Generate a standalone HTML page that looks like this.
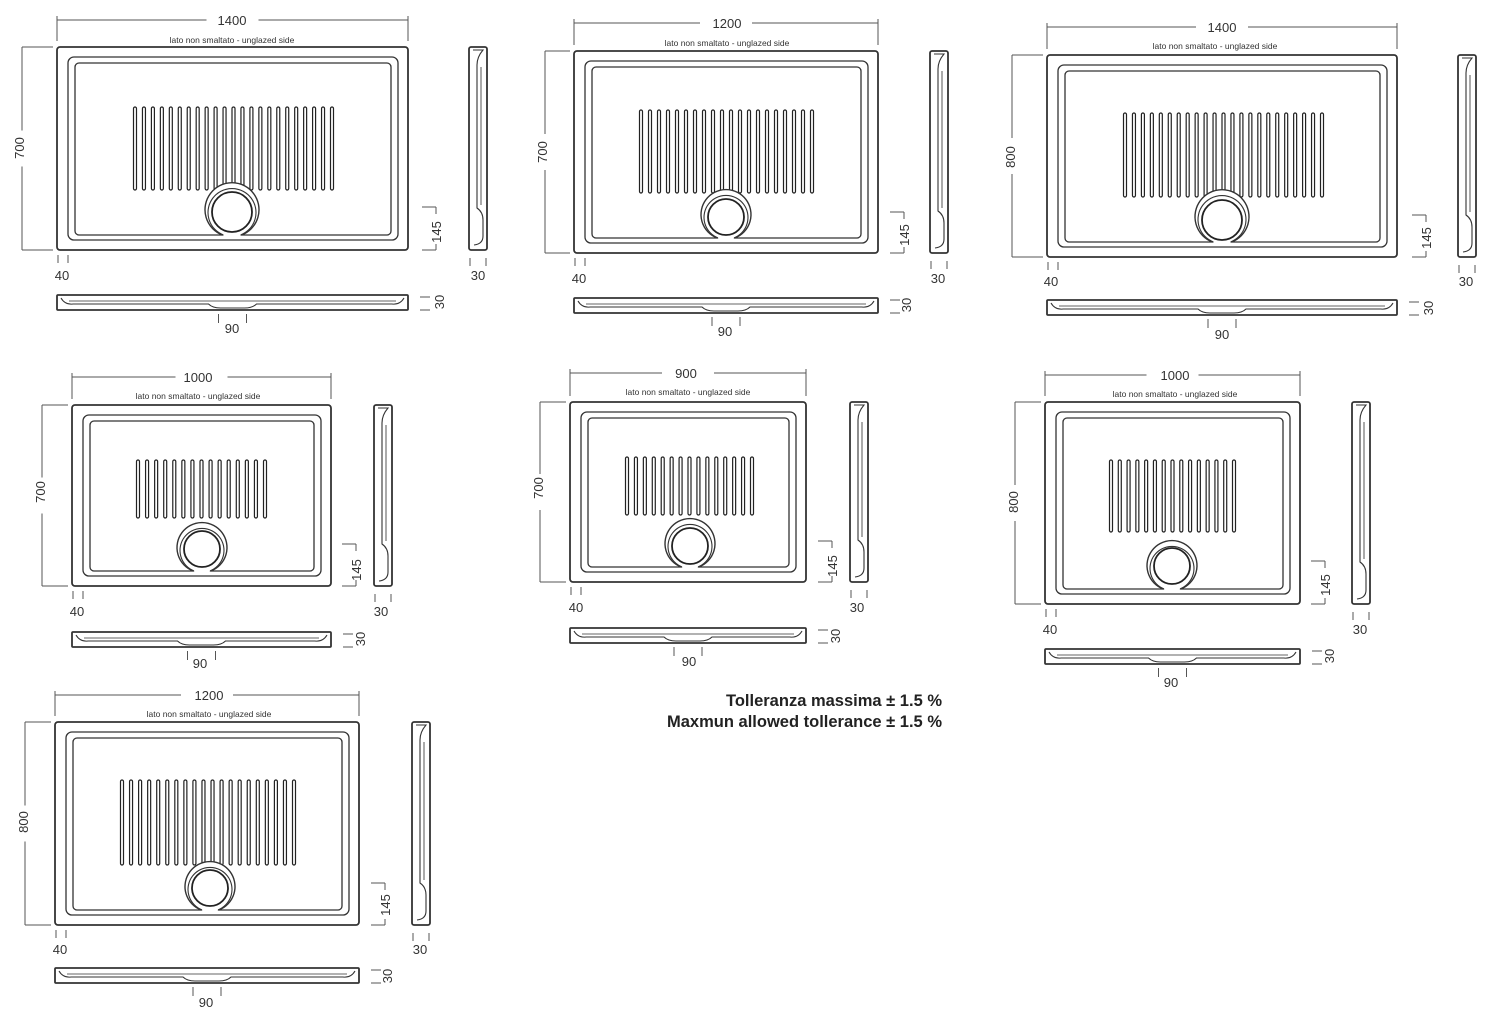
<!DOCTYPE html>
<html><head><meta charset="utf-8"><style>
html,body{margin:0;padding:0;background:#fff;}
svg{display:block;}
text{font-family:"Liberation Sans",sans-serif;fill:#333;}
.d{font-size:13px;}
.s{font-size:8.5px;}
.b{font-size:16.5px;font-weight:bold;fill:#222;}
</style></head><body>
<svg id="sv" width="1500" height="1023" viewBox="0 0 1500 1023" xmlns="http://www.w3.org/2000/svg">
<g id="shapes"></g>
<g id="labels">
<text class="d" x="232" y="25" text-anchor="middle">1400</text>
<text class="s" x="232" y="43" text-anchor="middle">lato non smaltato - unglazed side</text>
<text class="d" transform="translate(24,148) rotate(-90)" text-anchor="middle">700</text>
<text class="d" transform="translate(441,232) rotate(-90)" text-anchor="middle">145</text>
<text class="d" x="62" y="280" text-anchor="middle">40</text>
<text class="d" x="478" y="280" text-anchor="middle">30</text>
<text class="d" transform="translate(444,302) rotate(-90)" text-anchor="middle">30</text>
<text class="d" x="232" y="333" text-anchor="middle">90</text>
<text class="d" x="727" y="28" text-anchor="middle">1200</text>
<text class="s" x="727" y="46" text-anchor="middle">lato non smaltato - unglazed side</text>
<text class="d" transform="translate(547,152) rotate(-90)" text-anchor="middle">700</text>
<text class="d" transform="translate(909,235) rotate(-90)" text-anchor="middle">145</text>
<text class="d" x="579" y="283" text-anchor="middle">40</text>
<text class="d" x="938" y="283" text-anchor="middle">30</text>
<text class="d" transform="translate(911,305) rotate(-90)" text-anchor="middle">30</text>
<text class="d" x="725" y="336" text-anchor="middle">90</text>
<text class="d" x="1222" y="32" text-anchor="middle">1400</text>
<text class="s" x="1215" y="49" text-anchor="middle">lato non smaltato - unglazed side</text>
<text class="d" transform="translate(1015,157) rotate(-90)" text-anchor="middle">800</text>
<text class="d" transform="translate(1431,238) rotate(-90)" text-anchor="middle">145</text>
<text class="d" x="1051" y="286" text-anchor="middle">40</text>
<text class="d" x="1466" y="286" text-anchor="middle">30</text>
<text class="d" transform="translate(1433,308) rotate(-90)" text-anchor="middle">30</text>
<text class="d" x="1222" y="339" text-anchor="middle">90</text>
<text class="d" x="198" y="382" text-anchor="middle">1000</text>
<text class="s" x="198" y="399" text-anchor="middle">lato non smaltato - unglazed side</text>
<text class="d" transform="translate(45,492) rotate(-90)" text-anchor="middle">700</text>
<text class="d" transform="translate(361,570) rotate(-90)" text-anchor="middle">145</text>
<text class="d" x="77" y="616" text-anchor="middle">40</text>
<text class="d" x="381" y="616" text-anchor="middle">30</text>
<text class="d" transform="translate(365,639) rotate(-90)" text-anchor="middle">30</text>
<text class="d" x="200" y="668" text-anchor="middle">90</text>
<text class="d" x="686" y="378" text-anchor="middle">900</text>
<text class="s" x="688" y="395" text-anchor="middle">lato non smaltato - unglazed side</text>
<text class="d" transform="translate(543,488) rotate(-90)" text-anchor="middle">700</text>
<text class="d" transform="translate(837,566) rotate(-90)" text-anchor="middle">145</text>
<text class="d" x="576" y="612" text-anchor="middle">40</text>
<text class="d" x="857" y="612" text-anchor="middle">30</text>
<text class="d" transform="translate(840,636) rotate(-90)" text-anchor="middle">30</text>
<text class="d" x="689" y="666" text-anchor="middle">90</text>
<text class="d" x="1175" y="380" text-anchor="middle">1000</text>
<text class="s" x="1175" y="397" text-anchor="middle">lato non smaltato - unglazed side</text>
<text class="d" transform="translate(1018,502) rotate(-90)" text-anchor="middle">800</text>
<text class="d" transform="translate(1330,585) rotate(-90)" text-anchor="middle">145</text>
<text class="d" x="1050" y="634" text-anchor="middle">40</text>
<text class="d" x="1360" y="634" text-anchor="middle">30</text>
<text class="d" transform="translate(1334,656) rotate(-90)" text-anchor="middle">30</text>
<text class="d" x="1171" y="687" text-anchor="middle">90</text>
<text class="d" x="209" y="700" text-anchor="middle">1200</text>
<text class="s" x="209" y="717" text-anchor="middle">lato non smaltato - unglazed side</text>
<text class="d" transform="translate(28,822) rotate(-90)" text-anchor="middle">800</text>
<text class="d" transform="translate(390,905) rotate(-90)" text-anchor="middle">145</text>
<text class="d" x="60" y="954" text-anchor="middle">40</text>
<text class="d" x="420" y="954" text-anchor="middle">30</text>
<text class="d" transform="translate(392,976) rotate(-90)" text-anchor="middle">30</text>
<text class="d" x="206" y="1007" text-anchor="middle">90</text>
<text class="b" x="942" y="706" text-anchor="end">Tolleranza massima ± 1.5 %</text>
<text class="b" x="942" y="727" text-anchor="end">Maxmun allowed tollerance ± 1.5 %</text>
</g>
</svg>
<script>
(function(){
var NS="http://www.w3.org/2000/svg",G=document.getElementById("shapes");
function el(t,a){var e=document.createElementNS(NS,t);for(var k in a)e.setAttribute(k,a[k]);G.appendChild(e);return e;}
function ln(x1,y1,x2,y2,w,c){el("line",{x1:x1,y1:y1,x2:x2,y2:y2,stroke:c||"#555","stroke-width":w||1});}
function tray(p){
 var x1=p.x1,x2=p.x2,y1=p.y1,y2=p.y2,cx=(x1+x2)/2;
 var ty=p.ty;ln(x1,ty,cx-26,ty);ln(cx+26,ty,x2,ty);ln(x1,ty-4,x1,y1-6);ln(x2,ty-4,x2,y1-6);
 var lx=p.lx;ln(lx,y1,lx,(y1+y2)/2-18);ln(lx,(y1+y2)/2+18,lx,y2);ln(lx,y1,x1-4,y1);ln(lx,y2,x1-4,y2);
 el("rect",{x:x1,y:y1,width:x2-x1,height:y2-y1,rx:3,fill:"#fff",stroke:"#333","stroke-width":1.8});
 el("rect",{x:x1+11,y:y1+10,width:x2-x1-21,height:y2-y1-20,rx:6,fill:"none",stroke:"#333","stroke-width":1.3});
 el("rect",{x:x1+18,y:y1+16,width:x2-x1-35,height:y2-y1-31,rx:4,fill:"none",stroke:"#333","stroke-width":1.3});
 var n=p.n,sp=(p.sx2-p.sx1)/(n-1);
 for(var i=0;i<n;i++){var x=p.sx1+i*sp;el("rect",{x:x-1.5,y:p.sy1,width:3,height:p.sy2-p.sy1,rx:1.5,fill:"#fff",stroke:"#222","stroke-width":1.2});}
 var dx=p.dx,dy=p.dy,R=p.R,by=y2-15;
 var a=0.36,sx=Math.sin(a);
 el("path",{d:"M"+(dx-R*sx)+","+(by)+" A"+R+","+R+" 0 1 1 "+(dx+R*sx)+","+by,fill:"#fff",stroke:"#333","stroke-width":1.4});
 el("path",{d:"M"+(dx-(R-3)*sx)+","+(by)+" A"+(R-3)+","+(R-3)+" 0 1 1 "+(dx+(R-3)*sx)+","+by,fill:"none",stroke:"#333","stroke-width":1.1});
 el("rect",{x:dx-R*sx+1,y:by-1,width:2*R*sx-2,height:3,fill:"#fff"});
 el("circle",{cx:dx,cy:dy,r:R-7,fill:"#fff",stroke:"#222","stroke-width":1.8});
 var bx=p.bx;ln(bx-14,dy-5,bx,dy-5);ln(bx,dy-5,bx,dy+2);ln(bx-14,y2,bx,y2);ln(bx,y2,bx,y2-6);
 ln(x1+1,y2+5,x1+1,y2+13);ln(x1+11,y2+5,x1+11,y2+13);
 var s=p.side;
 el("rect",{x:s,y:y1,width:18,height:y2-y1,rx:2,fill:"#fff",stroke:"#333","stroke-width":1.8});
 el("path",{d:"M"+(s+4)+","+(y1+3)+" L"+(s+14)+","+(y1+3)+" Q"+(s+8)+","+(y1+10)+" "+(s+8)+","+(y1+18)+" L"+(s+8)+","+(y2-42)+" Q"+(s+14)+","+(y2-38)+" "+(s+14)+","+(y2-30)+" L"+(s+14)+","+(y2-14)+" Q"+(s+14)+","+(y2-6)+" "+(s+5)+","+(y2-5),fill:"none",stroke:"#333","stroke-width":1.1});
 ln(s+12,y1+20,s+12,y2-45,1,"#555");
 ln(s+1,y2+8,s+1,y2+16);ln(s+17,y2+8,s+17,y2+16);
 var bv=p.bv;
 el("rect",{x:x1,y:bv,width:x2-x1,height:15,rx:1,fill:"#fff",stroke:"#333","stroke-width":1.8});
 el("path",{d:"M"+(x1+4)+","+(bv+3)+" Q"+(x1+8)+","+(bv+10)+" "+(x1+16)+","+(bv+9)+" L"+(cx-24)+","+(bv+9)+" Q"+(cx-20)+","+(bv+13)+" "+(cx-12)+","+(bv+13)+" L"+(cx+12)+","+(bv+13)+" Q"+(cx+20)+","+(bv+13)+" "+(cx+24)+","+(bv+9)+" L"+(x2-16)+","+(bv+9)+" Q"+(x2-8)+","+(bv+10)+" "+(x2-4)+","+(bv+3),fill:"none",stroke:"#333","stroke-width":1.1});
 ln(x1+12,bv+6,x2-12,bv+6,1,"#666");
 ln(x2+12,bv+2,x2+22,bv+2);ln(x2+12,bv+15,x2+22,bv+15);
 ln(cx-14,bv+19,cx-14,bv+28);ln(cx+14,bv+19,cx+14,bv+28);
}
var T=[
 {x1:57,y1:47,x2:408,y2:250,ty:20,lx:22,sx1:135,sx2:332,sy1:107,sy2:190,n:23,dx:232,dy:212,R:27,bx:436,side:469,bv:295},
 {x1:574,y1:51,x2:878,y2:253,ty:23,lx:545,sx1:641,sx2:812,sy1:110,sy2:193,n:20,dx:726,dy:217,R:25,bx:904,side:930,bv:298},
 {x1:1047,y1:55,x2:1397,y2:257,ty:27,lx:1012,sx1:1125,sx2:1322,sy1:113,sy2:197,n:23,dx:1222,dy:220,R:27,bx:1426,side:1458,bv:300},
 {x1:72,y1:405,x2:331,y2:586,ty:377,lx:42,sx1:138,sx2:265,sy1:460,sy2:518,n:15,dx:202,dy:549,R:25,bx:356,side:374,bv:632},
 {x1:570,y1:402,x2:806,y2:582,ty:373,lx:540,sx1:627,sx2:752,sy1:457,sy2:515,n:15,dx:690,dy:546,R:25,bx:832,side:850,bv:628},
 {x1:1045,y1:402,x2:1300,y2:604,ty:375,lx:1015,sx1:1111,sx2:1234,sy1:460,sy2:532,n:15,dx:1172,dy:566,R:25,bx:1325,side:1352,bv:649},
 {x1:55,y1:722,x2:359,y2:925,ty:695,lx:25,sx1:122,sx2:294,sy1:780,sy2:865,n:20,dx:210,dy:888,R:25,bx:385,side:412,bv:968}
];
T.forEach(tray);
})();
</script>
</body></html>
